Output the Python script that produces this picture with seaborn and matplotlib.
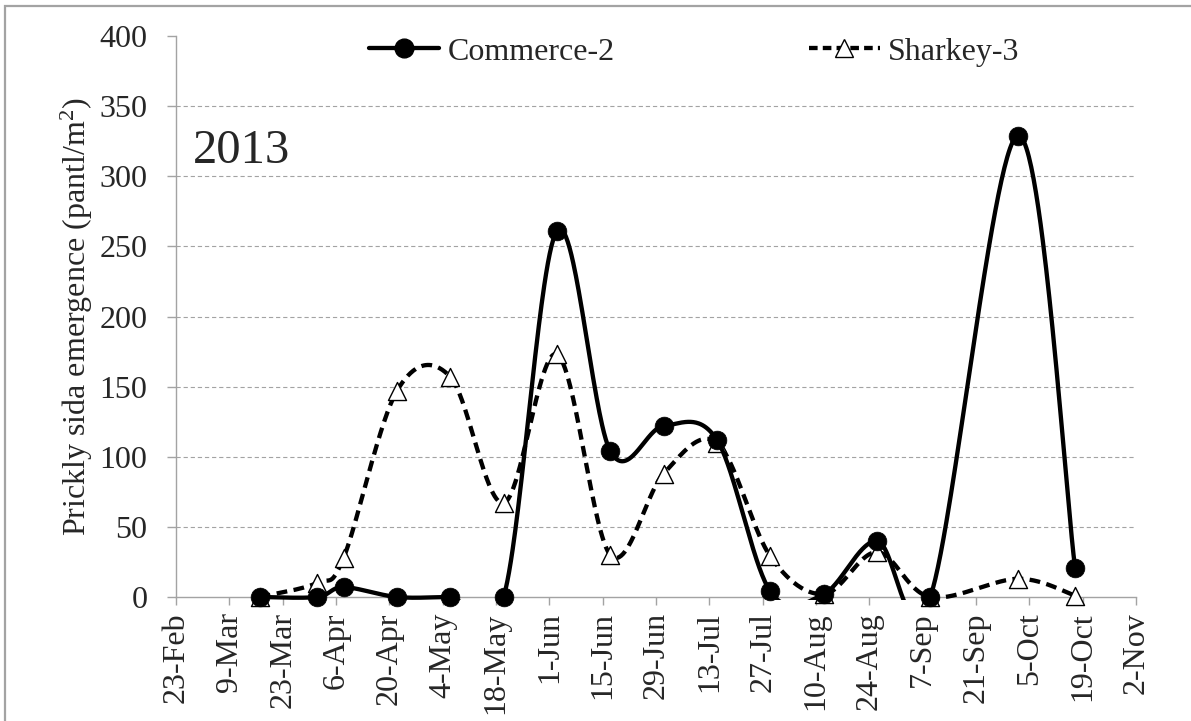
import numpy as np
import pandas as pd
import matplotlib
matplotlib.use("Agg")
import matplotlib.pyplot as plt
import matplotlib.dates as mdates
import seaborn as sns
from matplotlib.lines import Line2D
from matplotlib.patches import Rectangle

# Sampling dates (2013) and emergence counts (plants/m2)
sample_dates = ["2013-03-17", "2013-04-01", "2013-04-08", "2013-04-22",
                "2013-05-06", "2013-05-20", "2013-06-03", "2013-06-17",
                "2013-07-01", "2013-07-15", "2013-07-29", "2013-08-12",
                "2013-08-26", "2013-09-09", "2013-10-02", "2013-10-17"]
commerce_2 = [0, 0, 7, 0, 0, 0, 261, 104, 122, 112, 4, 2, 40, 0, 329, 21]
sharkey_3 = [0, 10, 28, 147, 157, 67, 173, 30, 88, 110, 29, 2, 32, 0, 13, 1]
series_names = ["Commerce-2", "Sharkey-3"]

axis_start, axis_end = "2013-02-23", "2013-11-02"
y_ticks = [0, 50, 100, 150, 200, 250, 300, 350, 400]
year_label = "2013"
y_label = "Prickly sida emergence (pantl/m$^2$)"


def smooth_curve(x, y, n=60):
    """Piecewise cubic Bezier through the points (spreadsheet-style smoothing)."""
    pts = np.column_stack([x, y]).astype(float)
    out = []
    t = np.linspace(0, 1, n)[:, None]
    for i in range(len(pts) - 1):
        p0 = pts[i - 1] if i > 0 else pts[i]
        p1, p2 = pts[i], pts[i + 1]
        p3 = pts[i + 2] if i + 2 < len(pts) else pts[i + 1]
        c1 = p1 + (p2 - p0) / 6.0
        c2 = p2 - (p3 - p1) / 6.0
        seg = ((1 - t) ** 3) * p1 + 3 * ((1 - t) ** 2) * t * c1 \
            + 3 * (1 - t) * (t ** 2) * c2 + (t ** 3) * p2
        out.append(seg if i == 0 else seg[1:])
    return np.vstack(out)


sns.set_theme(style="white")
plt.rcParams["font.family"] = ["Liberation Serif", "DejaVu Serif"]
plt.rcParams["mathtext.fontset"] = "custom"
plt.rcParams["mathtext.rm"] = "Liberation Serif"
plt.rcParams["mathtext.it"] = "Liberation Serif:italic"

FS = 23
GRAY = "#a3a3a3"

fig = plt.figure(figsize=(11.91, 7.21), dpi=100)
ax = fig.add_axes([176 / 1191, 1 - 597 / 721, 960 / 1191, 561 / 721])

xd = mdates.date2num(pd.to_datetime(sample_dates))
df = pd.DataFrame({"date": xd, series_names[0]: commerce_2,
                   series_names[1]: sharkey_3})

clip = Rectangle((0, -0.006), 1, 1.012, transform=ax.transAxes,
                 facecolor="none", edgecolor="none")

LW = 3.1
# Sharkey-3: dashed smoothed line with open triangles
cs = smooth_curve(df["date"], df[series_names[1]])
ln_s, = ax.plot(cs[:, 0], cs[:, 1], color="black", lw=LW,
                dashes=(2.5, 1.5), dash_capstyle="butt", zorder=3)
ln_s.set_clip_path(clip)
sns.scatterplot(data=df, x="date", y=series_names[1], marker="^", s=13 ** 2,
                facecolor="white", edgecolor="black", linewidth=1.0,
                zorder=4, clip_on=False, ax=ax)

# Commerce-2: solid smoothed line with filled circles
cc = smooth_curve(df["date"], df[series_names[0]])
ln_c, = ax.plot(cc[:, 0], cc[:, 1], color="black", lw=LW,
                solid_capstyle="butt", zorder=5)
ln_c.set_clip_path(clip)
sns.scatterplot(data=df, x="date", y=series_names[0], marker="o", s=13.5 ** 2,
                color="black", edgecolor="black", linewidth=0.5,
                zorder=6, clip_on=False, ax=ax)

# Axes
tick_dates = pd.date_range(axis_start, axis_end, freq="14D")
ax.set_xlim(mdates.date2num(tick_dates[0]), mdates.date2num(tick_dates[-1]))
ax.set_xticks(mdates.date2num(tick_dates))
ax.set_xticklabels([f"{d.day}-{d.strftime('%b')}" for d in tick_dates],
                   rotation=90, fontsize=FS)
ax.set_ylim(y_ticks[0], y_ticks[-1])
ax.set_yticks(y_ticks)
ax.set_yticklabels([str(v) for v in y_ticks], fontsize=FS)
ax.set_xlabel("")
ax.set_ylabel(y_label, fontsize=FS, labelpad=3)

ax.tick_params(axis="y", length=6.5, width=1, color=GRAY, pad=14, left=True)
ax.tick_params(axis="x", length=6, width=1, color=GRAY, pad=5, bottom=True)
for side in ["top", "right"]:
    ax.spines[side].set_visible(False)
for side in ["left", "bottom"]:
    ax.spines[side].set_color(GRAY)
    ax.spines[side].set_linewidth(1.0)

ax.yaxis.grid(True, color=GRAY, lw=0.8, linestyle=(0, (3.8, 2.6)))
gl = ax.yaxis.get_gridlines()
gl[0].set_visible(False)
gl[-1].set_visible(False)
ax.set_axisbelow(True)

ax.text(0.018, 0.774, year_label, transform=ax.transAxes, fontsize=35,
        ha="left", va="baseline")

# Legend
handles = [
    Line2D([], [], color="black", lw=LW, marker="o", markersize=13.5,
           markerfacecolor="black", markeredgecolor="black"),
    Line2D([], [], color="black", lw=LW, dashes=(2.0, 1.2), marker="^",
           markersize=13, markerfacecolor="white", markeredgecolor="black",
           markeredgewidth=1.0),
]
fig.legend(handles, series_names, loc="center", ncol=2, frameon=False,
           fontsize=FS, handlelength=2.2, handletextpad=0.25,
           columnspacing=6.1, numpoints=1,
           bbox_to_anchor=(694 / 1191, 1 - 52 / 721),
           bbox_transform=fig.transFigure)

# Chart-area border
fig.patches.append(Rectangle((5 / 1191, -0.05), 1.2, 1.05 - 6 / 721,
                             transform=fig.transFigure, fill=False,
                             edgecolor=GRAY, lw=1.6))

fig.savefig("out.png", dpi=100)
